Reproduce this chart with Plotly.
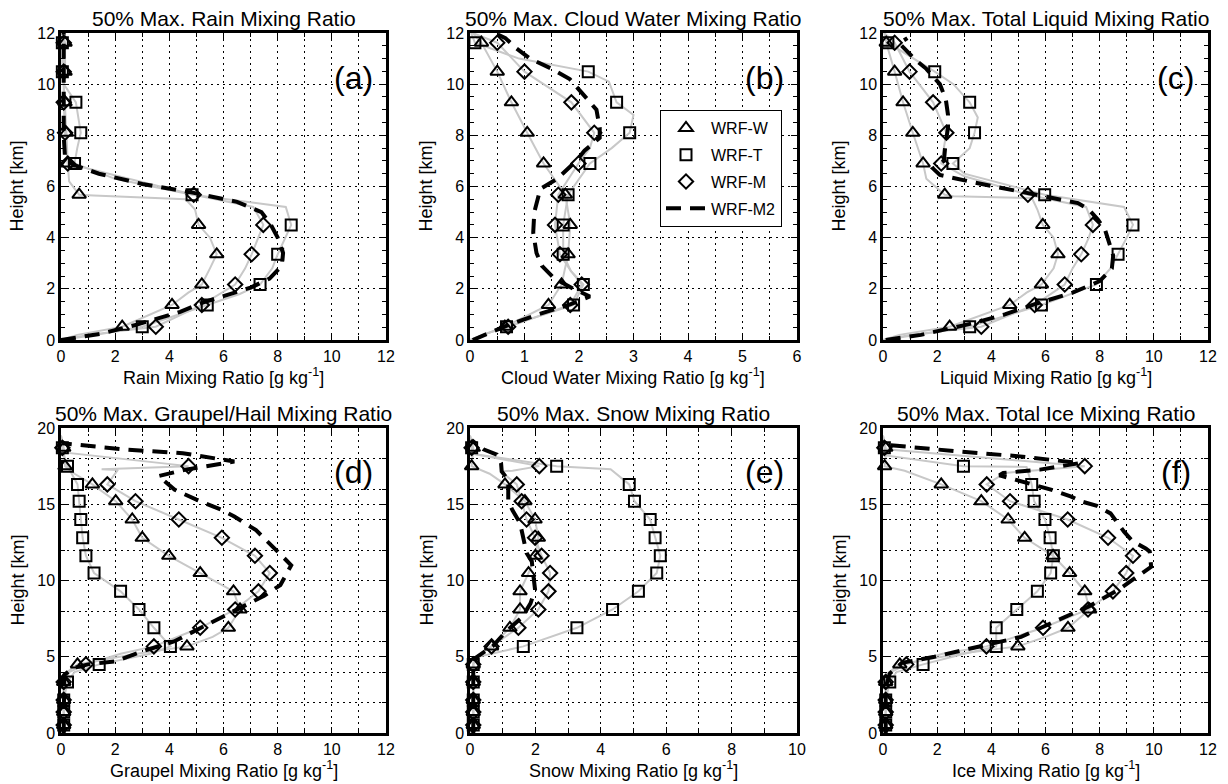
import plotly.graph_objects as go

# ---------------------------------------------------------------------------
# Data: heights of the sampled model levels [km] and the 50 %-of-maximum
# mixing ratios [g/kg] of each run at those levels.
# ---------------------------------------------------------------------------
LEVELS = [0.52, 1.37, 2.17, 3.35, 4.5, 5.68, 6.9, 8.1, 9.29, 10.49, 11.62,
          12.8, 14.0, 15.2, 16.3, 17.5, 18.7]
LEV_TOP = LEVELS[:11]
LEV_BOT = LEVELS

# (a) rain
RAIN_W = [2.26, 4.1, 5.2, 5.75, 5.08, 0.67, 0.25, 0.2, 0.15, 0.15, 0.15]
RAIN_T = [3.0, 5.4, 7.35, 8.0, 8.5, 4.84, 0.5, 0.73, 0.55, 0.05, 0.05]
RAIN_M = [3.5, 5.2, 6.43, 7.04, 7.47, 4.9, 0.25, 0.15, 0.1, 0.1, 0.1]
RAIN_M2_H = [0.0, 0.25, 0.6, 1.1, 1.45, 1.8, 2.05, 2.4, 2.9, 3.4, 4.0, 4.5, 5.0,
             5.4, 5.75, 6.1, 6.5, 6.85, 7.1, 8.0, 9.0, 10.0, 11.0, 12.0]
RAIN_M2_X = [0.0, 1.5, 2.8, 4.4, 5.2, 6.3, 7.0, 7.7, 8.15, 8.2, 8.0, 7.75, 7.4,
             6.5, 4.9, 3.0, 1.4, 0.45, 0.15, 0.1, 0.1, 0.1, 0.1, 0.1]
RAIN_W_FULL = [(0, 0), (0.2, 0.6), (1.85, 4.7), (2.8, 5.5), (4.0, 5.5), (5.1, 4.95),
               (5.5, 4.6), (5.65, 1.2), (6.2, 0.3), (10.0, 0.1), (12.0, 0.05)]
RAIN_T_FULL = [(0, 0), (0.2, 1.3), (1.8, 6.6), (2.8, 7.8), (4.0, 8.3), (5.2, 8.3),
               (6.3, 2.0), (7.5, 0.6), (10.0, 0.1), (12.0, 0.05)]
RAIN_M_FULL = [(0, 0), (0.2, 1.0), (2.8, 6.8), (4.0, 7.3), (5.2, 7.1), (6.3, 2.5),
               (12.0, 0.05)]

# (b) cloud water
CLOUD_W = [0.64, 1.44, 1.68, 1.8, 1.84, 1.75, 1.35, 1.05, 0.76, 0.5, 0.21]
CLOUD_T = [0.67, 1.9, 2.08, 1.71, 1.71, 1.8, 2.2, 2.93, 2.69, 2.17, 0.09]
CLOUD_M = [0.7, 1.84, 2.05, 1.65, 1.56, 1.62, 1.99, 2.28, 1.86, 1.0, 0.5]
CLOUD_M2_H = [0.0, 0.3, 0.6, 1.0, 1.4, 1.7, 2.0, 2.4, 2.9, 3.4, 4.2, 5.0, 5.9,
              6.3, 6.6, 7.0, 7.4, 7.9, 8.3, 9.0, 9.3, 9.8, 10.2, 10.6, 11.0,
              11.4, 11.8, 12.0]
CLOUD_M2_X = [0.05, 0.4, 0.72, 1.25, 1.85, 2.2, 1.9, 1.55, 1.32, 1.22, 1.16,
              1.18, 1.29, 1.6, 1.75, 1.95, 2.1, 2.38, 2.38, 2.32, 2.2, 1.99,
              1.83, 1.5, 1.1, 0.85, 0.65, 0.45]
CLOUD_W_FULL = [(0, 0), (0.25, 0.3), (12.0, 0.05)]
CLOUD_T_FULL = [(0, 0), (0.25, 0.3), (2.7, 1.85), (7.5, 2.6), (8.8, 3.0),
                (10.1, 2.55), (11.0, 0.9), (12.0, 0.02)]
CLOUD_M_FULL = [(0, 0), (0.25, 0.3), (2.7, 1.85), (7.5, 2.2), (12.0, 0.05)]

# (c) total liquid
LIQ_W = [2.46, 4.68, 5.85, 6.46, 5.9, 2.28, 1.48, 1.1, 0.74, 0.43, 0.12]
LIQ_T = [3.2, 5.85, 7.88, 8.68, 9.23, 5.97, 2.58, 3.38, 3.2, 1.91, 0.18]
LIQ_M = [3.63, 5.6, 6.71, 7.32, 7.75, 5.35, 2.15, 2.34, 1.85, 0.98, 0.43]
LIQ_M2_H = [0.0, 0.2, 0.65, 1.0, 1.4, 1.85, 2.3, 2.8, 3.3, 3.9, 4.3, 4.7, 5.1,
            5.35, 5.8, 6.15, 6.45, 6.7, 7.0, 7.6, 8.3, 8.8, 9.4, 10.0, 10.6,
            10.95, 11.6, 11.8]
LIQ_M2_X = [0.1, 1.4, 3.3, 4.5, 5.6, 7.0, 8.0, 8.45, 8.5, 8.3, 8.2, 7.94, 7.6,
            7.2, 5.0, 3.4, 2.1, 1.85, 2.25, 2.3, 2.4, 2.4, 2.32, 2.1, 1.6,
            1.2, 0.6, 0.9]
LIQ_W_FULL = [(0, 0), (0.2, 0.6), (1.85, 5.3), (2.8, 6.3), (4.0, 6.3), (5.1, 5.7),
              (5.55, 5.5), (5.62, 2.6), (6.3, 1.6), (12.0, 0.05)]
LIQ_T_FULL = [(0, 0), (0.2, 1.3), (1.8, 6.9), (2.8, 8.4), (4.0, 9.0), (5.2, 8.9),
              (6.5, 3.0), (7.5, 3.2), (8.7, 3.5), (10.0, 2.6), (12.0, 0.05)]
LIQ_M_FULL = [(0, 0), (0.2, 1.0), (2.8, 7.0), (4.0, 7.6), (5.2, 7.5), (6.4, 3.0),
              (12.0, 0.05)]

# (d) graupel / hail
GRAUP_W = [0.1, 0.1, 0.1, 0.1, 0.61, 4.65, 6.18, 6.61, 6.37, 5.14, 3.98, 3.0,
           2.63, 2.02, 1.16, 0.15, 0.1]
GRAUP_T = [0.1, 0.1, 0.1, 0.24, 1.41, 4.04, 3.43, 2.88, 2.2, 1.22, 0.92, 0.8,
           0.73, 0.67, 0.61, 0.24, 0.05]
GRAUP_M = [0.1, 0.1, 0.1, 0.1, 0.92, 3.43, 5.14, 6.43, 7.29, 7.71, 7.16, 5.94,
           4.35, 2.75, 1.71, 4.71, 0.05]
GRAUP_M2_H = [0.0, 1.0, 2.0, 3.0, 3.8, 4.25, 4.5, 4.7, 5.35, 6.0, 6.9, 8.2, 9.0,
              9.7, 10.6, 11.0, 11.9, 13.3, 14.2, 14.65, 15.3, 15.95, 16.85,
              17.27, 17.8, 18.35, 18.6, 19.0]
GRAUP_M2_X = [0.1, 0.1, 0.1, 0.1, 0.12, 0.43, 1.0, 2.0, 3.0, 4.17, 5.15, 6.6,
              7.5, 8.1, 8.4, 8.5, 8.0, 7.2, 6.4, 5.9, 5.0, 4.2, 3.6, 4.6, 6.4,
              4.5, 2.3, 0.05]
GRAUP_W_FULL = [(0, 0), (3.9, 0.15), (5.2, 2.8), (6.3, 5.6), (17.0, 0.5), (19.5, 0.0)]
GRAUP_T_FULL = [(0, 0), (4.0, 0.5), (5.2, 3.3), (18.2, 0.1), (19.5, 0.0)]
GRAUP_M_FULL = [(0, 0), (4.0, 0.3), (5.2, 2.2), (16.8, 1.9), (17.25, 2.1),
                (17.3, 1.5), (18.4, 0.1), (19.5, 0.0)]

# (e) snow
SNOW_W = [0.1, 0.1, 0.1, 0.1, 0.1, 0.66, 1.22, 1.53, 1.53, 1.79, 2.0, 2.09, 1.99,
          1.68, 1.07, 0.05, 0.1]
SNOW_T = [0.1, 0.1, 0.1, 0.1, 0.1, 1.63, 3.27, 4.36, 5.15, 5.71, 5.82, 5.66,
          5.51, 5.03, 4.87, 2.65, 0.05]
SNOW_M = [0.1, 0.1, 0.1, 0.1, 0.1, 0.66, 1.48, 2.09, 2.4, 2.45, 2.19, 1.99, 1.73,
          1.58, 1.43, 2.12, 0.05]
SNOW_M2_H = [0.0, 1.0, 2.0, 3.0, 4.0, 4.9, 5.7, 6.7, 7.6, 8.5, 9.4, 10.3, 11.25,
             11.8, 13.2, 13.77, 14.6, 15.2, 16.6, 17.15, 17.7, 18.25, 18.6,
             18.9, 19.2]
SNOW_M2_X = [0.1, 0.1, 0.1, 0.1, 0.1, 0.15, 0.7, 1.12, 1.6, 1.85, 1.99, 1.94,
             1.89, 1.73, 1.58, 1.53, 1.3, 1.17, 1.17, 0.97, 0.95, 0.82, 0.41,
             0.25, 0.05]
SNOW_W_FULL = [(0, 0), (4.95, 0.15), (17.0, 0.6), (19.5, 0.0)]
SNOW_T_FULL = [(0, 0), (4.95, 0.15), (17.3, 4.3), (18.3, 0.1), (19.5, 0.0)]
SNOW_M_FULL = [(0, 0), (4.95, 0.15), (17.15, 0.95), (17.2, 1.3), (18.3, 0.1),
               (19.5, 0.0)]

# (f) total ice
ICE_W = [0.1, 0.1, 0.1, 0.1, 0.62, 4.98, 6.83, 7.63, 7.45, 6.89, 6.28, 5.23,
         4.62, 3.63, 2.15, 0.06, 0.1]
ICE_T = [0.1, 0.1, 0.1, 0.25, 1.48, 4.18, 4.18, 4.94, 5.7, 6.19, 6.29, 6.17,
         5.98, 5.58, 5.49, 2.97, 0.05]
ICE_M = [0.1, 0.1, 0.1, 0.1, 0.86, 3.82, 5.91, 7.57, 8.49, 8.98, 9.23, 8.31,
         6.82, 4.69, 3.83, 7.45, 0.05]
ICE_M2_H = [0.0, 1.0, 2.0, 3.0, 3.9, 4.6, 5.0, 5.75, 6.3, 7.2, 8.3, 9.4, 10.6,
            10.9, 11.9, 12.1, 12.6, 13.2, 14.4, 14.9, 15.2, 15.5, 15.96, 16.3,
            16.6, 16.9, 17.05, 17.27, 17.7, 18.14, 18.47, 18.9]
ICE_M2_X = [0.1, 0.1, 0.1, 0.1, 0.25, 0.7, 1.9, 3.8, 5.1, 6.2, 7.6, 8.7, 9.66,
            9.9, 9.85, 9.7, 9.2, 8.9, 8.4, 7.9, 7.3, 6.95, 6.2, 5.48, 4.86, 4.3,
            4.44, 5.8, 7.27, 5.06, 2.72, 0.14]
ICE_W_FULL = [(0, 0), (3.9, 0.15), (5.2, 2.8), (6.3, 6.0), (17.2, 0.8),
              (18.1, 0.1), (19.5, 0.0)]
ICE_T_FULL = [(0, 0), (4.0, 0.5), (5.2, 3.0), (17.45, 5.3), (18.2, 0.1), (19.5, 0.0)]
ICE_M_FULL = [(0, 0), (4.0, 0.3), (5.2, 2.2), (17.05, 4.5), (18.6, 0.1), (19.5, 0.0)]

# ---------------------------------------------------------------------------
# Panel layout (pixel boxes: left, right, top, bottom) and axis settings
# ---------------------------------------------------------------------------
FIG_W, FIG_H = 1228, 784
FONT = "Liberation Sans, Arial, Helvetica, sans-serif"
GRAY = "rgb(200,200,200)"
DOT = "2px,4px"

PANELS = [
    dict(box=(61, 386, 33, 340), title="50% Max. Rain Mixing Ratio",
         xlabel="Rain Mixing Ratio [g kg<sup>-1</sup>]", xmax=12, xmaj=2, xmin=1,
         ymax=12, ymaj=2, ymin=0.5, ygrid_minor=False, letter="(a)", lev=LEV_TOP,
         w=RAIN_W, t=RAIN_T, m=RAIN_M, m2h=RAIN_M2_H, m2x=RAIN_M2_X,
         wf=RAIN_W_FULL, tf=RAIN_T_FULL, mf=RAIN_M_FULL),
    dict(box=(470, 797, 33, 340), title="50% Max. Cloud Water Mixing Ratio",
         xlabel="Cloud Water Mixing Ratio [g kg<sup>-1</sup>]", xmax=6, xmaj=1, xmin=0.5,
         ymax=12, ymaj=2, ymin=0.5, ygrid_minor=False, letter="(b)", lev=LEV_TOP,
         w=CLOUD_W, t=CLOUD_T, m=CLOUD_M, m2h=CLOUD_M2_H, m2x=CLOUD_M2_X,
         wf=CLOUD_W_FULL, tf=CLOUD_T_FULL, mf=CLOUD_M_FULL),
    dict(box=(883, 1208, 33, 340), title="50% Max. Total Liquid Mixing Ratio",
         xlabel="Liquid Mixing Ratio [g kg<sup>-1</sup>]", xmax=12, xmaj=2, xmin=1,
         ymax=12, ymaj=2, ymin=0.5, ygrid_minor=False, letter="(c)", lev=LEV_TOP,
         w=LIQ_W, t=LIQ_T, m=LIQ_M, m2h=LIQ_M2_H, m2x=LIQ_M2_X,
         wf=LIQ_W_FULL, tf=LIQ_T_FULL, mf=LIQ_M_FULL),
    dict(box=(61, 386, 428, 733), title="50% Max. Graupel/Hail Mixing Ratio",
         xlabel="Graupel Mixing Ratio [g kg<sup>-1</sup>]", xmax=12, xmaj=2, xmin=1,
         ymax=20, ymaj=5, ymin=2, ygrid_minor=True, letter="(d)", lev=LEV_BOT,
         w=GRAUP_W, t=GRAUP_T, m=GRAUP_M, m2h=GRAUP_M2_H, m2x=GRAUP_M2_X,
         wf=GRAUP_W_FULL, tf=GRAUP_T_FULL, mf=GRAUP_M_FULL),
    dict(box=(470, 797, 428, 733), title="50% Max. Snow Mixing Ratio",
         xlabel="Snow Mixing Ratio [g kg<sup>-1</sup>]", xmax=10, xmaj=2, xmin=1,
         ymax=20, ymaj=5, ymin=2, ygrid_minor=True, letter="(e)", lev=LEV_BOT,
         w=SNOW_W, t=SNOW_T, m=SNOW_M, m2h=SNOW_M2_H, m2x=SNOW_M2_X,
         wf=SNOW_W_FULL, tf=SNOW_T_FULL, mf=SNOW_M_FULL),
    dict(box=(883, 1208, 428, 733), title="50% Max. Total Ice Mixing Ratio",
         xlabel="Ice Mixing Ratio [g kg<sup>-1</sup>]", xmax=12, xmaj=2, xmin=1,
         ymax=20, ymaj=5, ymin=2, ygrid_minor=True, letter="(f)", lev=LEV_BOT,
         w=ICE_W, t=ICE_T, m=ICE_M, m2h=ICE_M2_H, m2x=ICE_M2_X,
         wf=ICE_W_FULL, tf=ICE_T_FULL, mf=ICE_M_FULL),
]

MARKERS = {"WRF-W": ("triangle-up-open", 12),
           "WRF-T": ("square-open", 11),
           "WRF-M": ("diamond-open", 11)}


def px_x(x):
    return x / FIG_W


def px_y(y):
    return 1 - y / FIG_H


def full_profile(levels, values, extra):
    """Model-level profile: sampled levels merged with intermediate levels."""
    pts = list(zip(levels, values)) + list(extra)
    pts.sort(key=lambda p: p[0])
    return [p[1] for p in pts], [p[0] for p in pts]


fig = go.Figure()
annotations = []

for i, p in enumerate(PANELS, start=1):
    sfx = "" if i == 1 else str(i)
    xa, ya = "x" + sfx, "y" + sfx
    left, right, top, bottom = p["box"]
    legend_panel = (i == 2)

    # light gray full-resolution profiles
    for key in ("wf", "tf", "mf"):
        vals = {"wf": p["w"], "tf": p["t"], "mf": p["m"]}[key]
        gx, gy = full_profile(p["lev"], vals, p[key])
        fig.add_trace(go.Scatter(x=gx, y=gy, mode="lines", xaxis=xa, yaxis=ya,
                                 line=dict(color=GRAY, width=2),
                                 showlegend=False, hoverinfo="skip"))

    # sampled levels of the three runs
    for name, key in (("WRF-W", "w"), ("WRF-T", "t"), ("WRF-M", "m")):
        sym, size = MARKERS[name]
        fig.add_trace(go.Scatter(
            x=p[key], y=p["lev"], mode="markers", name=name, xaxis=xa, yaxis=ya,
            legendgroup=name,
            marker=dict(symbol=sym, size=size, color="black",
                        line=dict(color="black", width=2)),
            cliponaxis=False, showlegend=legend_panel))

    # WRF-M2 profile
    fig.add_trace(go.Scatter(
        x=p["m2x"], y=p["m2h"], mode="lines", name="WRF-M2", xaxis=xa, yaxis=ya,
        legendgroup="WRF-M2",
        line=dict(color="black", width=4, dash="15px,9px"),
        showlegend=legend_panel))

    common = dict(
        showline=True, linewidth=2.5, linecolor="black", mirror="allticks",
        ticks="inside", ticklen=6, tickwidth=1.2, tickcolor="black",
        showgrid=True, gridcolor="black", gridwidth=1, griddash=DOT,
        zeroline=False, tick0=0, automargin=False,
        tickfont=dict(family=FONT, size=16, color="black"),
    )
    fig.update_layout({
        "xaxis" + sfx: dict(
            common, domain=[px_x(left), px_x(right)], range=[0, p["xmax"]],
            dtick=p["xmaj"], anchor=ya,
            minor=dict(dtick=p["xmin"], tick0=0, showgrid=True, gridcolor="black",
                       gridwidth=1, griddash=DOT, ticks="inside", ticklen=4,
                       tickcolor="black")),
        "yaxis" + sfx: dict(
            common, domain=[px_y(bottom), px_y(top)], range=[0, p["ymax"]],
            dtick=p["ymaj"], anchor=xa,
            minor=dict(dtick=p["ymin"], tick0=0, showgrid=p["ygrid_minor"],
                       gridcolor="black", gridwidth=1, griddash=DOT,
                       ticks="inside", ticklen=4, tickcolor="black")),
    })

    cx = px_x((left + right) / 2)
    annotations.append(dict(text=p["title"], xref="paper", yref="paper",
                            x=cx, y=px_y(top - 15), xanchor="center",
                            yanchor="middle", showarrow=False,
                            font=dict(family=FONT, size=21, color="black")))
    annotations.append(dict(text=p["xlabel"], xref="paper", yref="paper",
                            x=cx, y=px_y(bottom + (36 if i <= 3 else 36)),
                            xanchor="center", yanchor="middle", showarrow=False,
                            font=dict(family=FONT, size=18, color="black")))
    annotations.append(dict(text="Height [km]", xref="paper", yref="paper",
                            x=px_x(left - 44), y=px_y((top + bottom) / 2),
                            xanchor="center", yanchor="middle", textangle=-90,
                            showarrow=False,
                            font=dict(family=FONT, size=18, color="black")))
    annotations.append(dict(text=p["letter"], xref=xa + " domain",
                            yref=ya + " domain", x=0.90, y=0.855,
                            xanchor="center", yanchor="middle", showarrow=False,
                            font=dict(family=FONT, size=32, color="black")))

fig.update_layout(
    width=FIG_W, height=FIG_H,
    margin=dict(l=0, r=0, t=0, b=0, autoexpand=False),
    paper_bgcolor="white", plot_bgcolor="white",
    font=dict(family=FONT, color="black"),
    annotations=annotations,
    showlegend=True,
    legend=dict(x=px_x(660), y=px_y(110), xanchor="left", yanchor="top",
                bgcolor="white", bordercolor="black", borderwidth=1,
                font=dict(family=FONT, size=16, color="black"),
                traceorder="grouped", tracegroupgap=3, itemwidth=40),
)

fig.write_html("out.html")
